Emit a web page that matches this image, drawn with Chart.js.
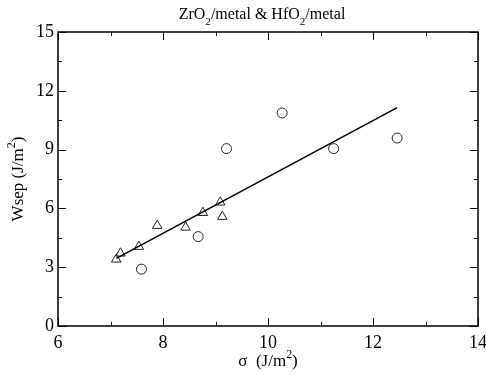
<!DOCTYPE html>
<html>
<head>
<meta charset="utf-8">
<script src="https://cdn.jsdelivr.net/npm/chart.js@4/dist/chart.umd.min.js"></script>
<style>
  body { margin: 0; background: #fff; }
</style>
</head>
<body>
<canvas id="myChart" width="486" height="375"></canvas>
<script>
// ZrO2/metal points (circles)
const zrX = [7.59, 8.67, 9.21, 10.27, 11.25, 12.46];
const zrY = [2.90, 4.56, 9.05, 10.87, 9.05, 9.59];
// HfO2/metal points (triangles)
const hfX = [7.11, 7.19, 7.54, 7.89, 8.43, 8.76, 9.09, 9.13];
const hfY = [3.40, 3.71, 4.05, 5.12, 5.03, 5.78, 6.31, 5.58];
// fitted line end points
const fitX = [7.11, 12.46];
const fitY = [3.45, 11.14];

function toPoints(xs, ys) {
  return xs.map((x, i) => ({x: x, y: ys[i]}));
}

const serif = '"Liberation Serif", "Times New Roman", serif';

// draws text made of normal / sub / sup pieces
function drawRich(ctx, parts, x, y, size, rotate) {
  ctx.save();
  ctx.translate(x, y);
  if (rotate) ctx.rotate(-Math.PI / 2);
  ctx.fillStyle = '#000';
  ctx.textBaseline = 'alphabetic';
  ctx.textAlign = 'left';
  let total = 0;
  parts.forEach(p => {
    const s = p[1] == 'n' ? size : size * 0.7;
    ctx.font = s + 'px ' + serif;
    total += ctx.measureText(p[0]).width;
  });
  let cx = -total / 2;
  parts.forEach(p => {
    const s = p[1] == 'n' ? size : size * 0.7;
    ctx.font = s + 'px ' + serif;
    let dy = 0;
    if (p[1] == 'sub') dy = size * 0.4;
    if (p[1] == 'sup') dy = -size * 0.45;
    ctx.fillText(p[0], cx, dy);
    cx += ctx.measureText(p[0]).width;
  });
  ctx.restore();
}

const framePlugin = {
  id: 'frame',
  afterDatasetsDraw(chart) {
    const ctx = chart.ctx;
    const a = chart.chartArea;
    const xs = chart.scales.x, ys = chart.scales.y;
    ctx.save();
    ctx.strokeStyle = '#000';
    ctx.lineWidth = 1.5;
    ctx.strokeRect(a.left, a.top, a.right - a.left, a.bottom - a.top);
    ctx.lineWidth = 1;
    ctx.beginPath();
    for (let v = xs.min; v <= xs.max; v += 1) {
      const px = Math.round(xs.getPixelForValue(v)) + 0.5;
      const len = v % 2 == 0 ? 8 : 4;
      ctx.moveTo(px, a.bottom); ctx.lineTo(px, a.bottom - len);
      ctx.moveTo(px, a.top); ctx.lineTo(px, a.top + len);
    }
    for (let v = ys.min; v <= ys.max; v += 1.5) {
      const py = Math.round(ys.getPixelForValue(v)) + 0.5;
      const len = v % 3 == 0 ? 8 : 4;
      ctx.moveTo(a.left, py); ctx.lineTo(a.left + len, py);
      ctx.moveTo(a.right, py); ctx.lineTo(a.right - len, py);
    }
    ctx.stroke();
    ctx.restore();

    const midX = (a.left + a.right) / 2;
    const midY = (a.top + a.bottom) / 2;
    drawRich(ctx, [['ZrO', 'n'], ['2', 'sub'], ['/metal & HfO', 'n'], ['2', 'sub'], ['/metal', 'n']],
      midX - 6, 19, 16, false);
    drawRich(ctx, [['\u03c3  (J/m', 'n'], ['2', 'sup'], [')', 'n']], midX, 366, 17, false);
    drawRich(ctx, [['Wsep (J/m', 'n'], ['2', 'sup'], [')', 'n']], 23, midY, 17, true);
  }
};

let myChart = document.getElementById('myChart').getContext('2d');

let chart = new Chart(myChart, {
  type: 'scatter',
  data: {
    datasets: [{
      label: 'fit',
      type: 'line',
      data: toPoints(fitX, fitY),
      borderColor: '#000',
      borderWidth: 1.5,
      pointRadius: 0,
      fill: false
    }, {
      label: 'ZrO2/metal',
      data: toPoints(zrX, zrY),
      pointStyle: 'circle',
      pointRadius: 5,
      pointBorderWidth: 1,
      pointBorderColor: '#222',
      pointBackgroundColor: 'rgba(0,0,0,0)'
    }, {
      label: 'HfO2/metal',
      data: toPoints(hfX, hfY),
      pointStyle: 'triangle',
      pointRadius: 5.5,
      pointBorderWidth: 1,
      pointBorderColor: '#222',
      pointBackgroundColor: 'rgba(0,0,0,0)'
    }]
  },
  options: {
    responsive: false,
    animation: false,
    layout: { padding: { top: 32, right: 8, left: 0, bottom: 0 } },
    plugins: {
      legend: { display: false },
      tooltip: { enabled: false }
    },
    scales: {
      x: {
        min: 6, max: 14,
        grid: { display: false, drawTicks: false },
        border: { display: false },
        ticks: { stepSize: 2, padding: 6, color: '#000', font: { family: serif, size: 18 } },
        afterFit(scale) {
          scale.height = 49;
          scale.paddingLeft = 0;
          scale.paddingRight = 0;
        }
      },
      y: {
        min: 0, max: 15,
        grid: { display: false, drawTicks: false },
        border: { display: false },
        ticks: { stepSize: 3, padding: 4, color: '#000', font: { family: serif, size: 18 } },
        afterFit(scale) {
          scale.width = 58;
          scale.paddingTop = 0;
          scale.paddingBottom = 0;
        }
      }
    }
  },
  plugins: [framePlugin]
});
</script>
</body>
</html>
